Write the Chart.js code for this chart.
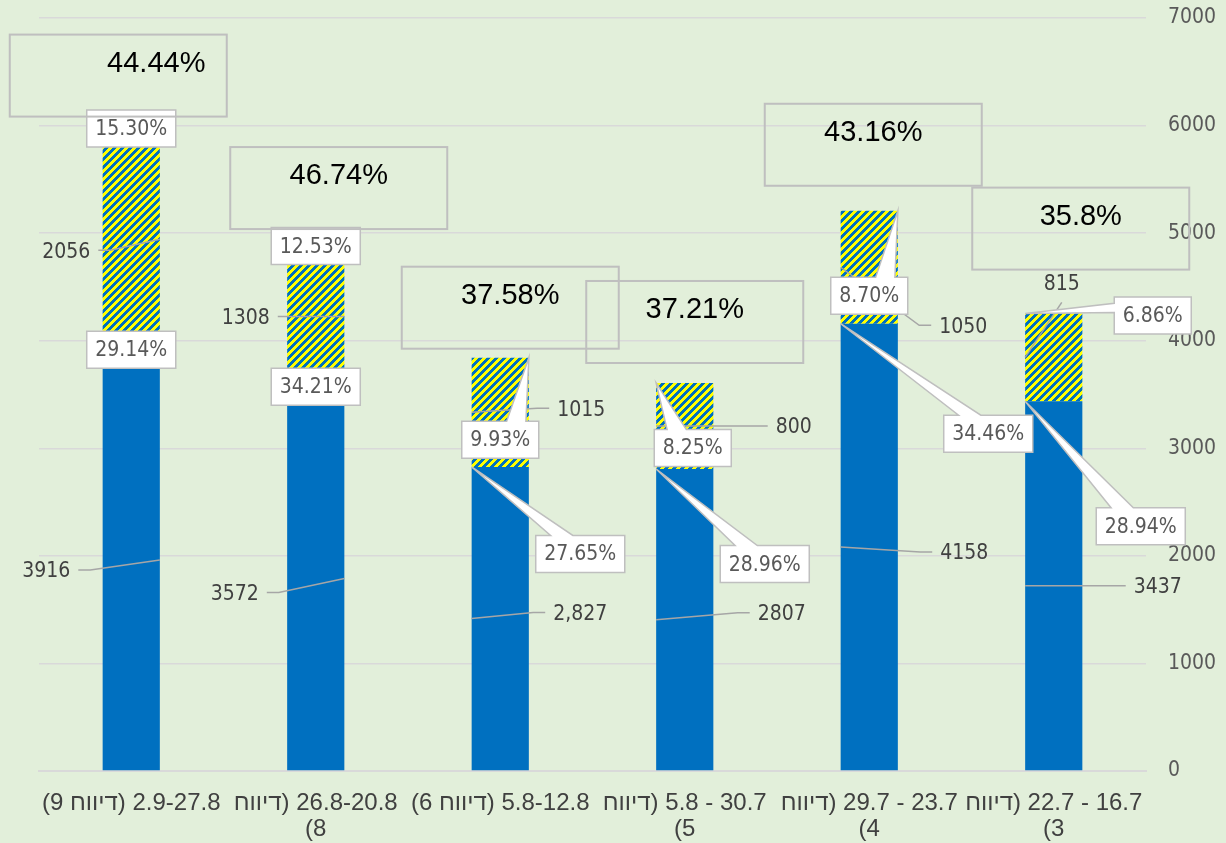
<!DOCTYPE html>
<html>
<head>
<meta charset="utf-8">
<script src="https://cdn.jsdelivr.net/npm/chart.js@4.4.1/dist/chart.umd.min.js"></script>
<style>
html,body{margin:0;padding:0;background:#e2efda;}
#wrap{width:1226px;height:843px;}
</style>
</head>
<body>
<div id="wrap"><canvas id="chart" width="1226" height="843"></canvas></div>
<script>
// report periods (visual order, Hebrew word isolated so the line reads like the original)
const RLI="\u2067", PDI="\u2069";
const heb="דיווח";
const categories=[
"(9 "+RLI+heb+PDI+") 2.9-27.8",
[RLI+heb+PDI+") 26.8-20.8","(8"],
"(6 "+RLI+heb+PDI+") 5.8-12.8",
[RLI+heb+PDI+") 5.8 - 30.7","(5"],
[RLI+heb+PDI+") 29.7 - 23.7","(4"],
[RLI+heb+PDI+") 22.7 - 16.7","(3"]
];

const blueValues=[3916,3572,2827,2807,4158,3437];
const hatchValues=[2056,1308,1015,800,1050,815];

const blueLabels=["3916","3572","2,827","2807","4158","3437"];
const hatchLabels=["2056","1308","1015","800","1050","815"];

const bluePct=["29.14%","34.21%","27.65%","28.96%","34.46%","28.94%"];
const hatchPct=["15.30%","12.53%","9.93%","8.25%","8.70%","6.86%"];
const totalPct=["44.44%","46.74%","37.58%","37.21%","43.16%","35.8%"];

const yMin=0, yMax=7000, yStep=1000;

/* layout of the annotations, offsets from the bar anchors (px) */
const blueLabelPos=[[-85,12,1],[-81,16,1],[80,-4,-1],[97,-5,-1],[95,7,-1],[104,2,-1]];
const hatchLabelPos=[[-65,13,1],[-70,2,1],[81,-2,-1],[109,2,-1],[94,60,-1],[8,-73,-1]];
const hatchPctPos=[[0,0,0],[0,0,0],[0,82,1],[8,65,-1],[0,85,1],[99,2,-1]];
const bluePctPos=[[0,0,0],[0,0,0],[80,87,-1],[80,95,-1],[119,110,-1],[87,125,-1]];
const bigBoxPos=[[-13,12,38],[23,17,0],[10,9,0],[10,20,0],[4,25,0],[27,44,0]];

const numFont="'DejaVu Sans Condensed','DejaVu Sans',sans-serif";

function makeHatch(){
const c=document.createElement("canvas");
c.width=8;c.height=8;
const g=c.getContext("2d");
g.fillStyle="#0070c0";
g.fillRect(0,0,8,8);
g.fillStyle="#ffff00";
for(let y=0;y<8;y++){
for(let x=0;x<8;x++){
if(((x+y)%8)<4) g.fillRect(x,y,1,1);
}
}
return g.createPattern(c,"repeat");
}

function wedgeBox(ctx,l,t,w,h,px,py){
const hc=l+w/2, vc=t+h/2;
const dxPos=px-hc, dyPos=py-vc;
ctx.beginPath();
if(px>=l && px<=l+w && py>=t && py<=t+h){
ctx.rect(l,t,w,h);
}else{
const side=Math.abs(dxPos*h)>Math.abs(dyPos*w);
const x1=l+w*(dxPos>0?7:2)/12, x2=l+w*(dxPos>0?10:5)/12;
const y1=t+h*(dyPos>0?7:2)/12, y2=t+h*(dyPos>0?10:5)/12;
ctx.moveTo(l,t);
if(!side && dyPos<0){ctx.lineTo(x1,t);ctx.lineTo(px,py);ctx.lineTo(x2,t);}
ctx.lineTo(l+w,t);
if(side && dxPos>0){ctx.lineTo(l+w,y1);ctx.lineTo(px,py);ctx.lineTo(l+w,y2);}
ctx.lineTo(l+w,t+h);
if(!side && dyPos>0){ctx.lineTo(x2,t+h);ctx.lineTo(px,py);ctx.lineTo(x1,t+h);}
ctx.lineTo(l,t+h);
if(side && dxPos<0){ctx.lineTo(l,y2);ctx.lineTo(px,py);ctx.lineTo(l,y1);}
ctx.closePath();
}
ctx.fillStyle="#ffffff";
ctx.fill();
ctx.strokeStyle="#bfbfbf";
ctx.lineWidth=1.5;
ctx.stroke();
}

function valueLabel(ctx,text,cx,hw,mid,pos){
const [dx,dy,edge]=pos;
const tx=cx+dx, ty=mid+dy;
ctx.font="21px "+numFont;
const tw=ctx.measureText(text).width;
const ex=cx+edge*hw;
ctx.strokeStyle="#a6a6a6";
ctx.lineWidth=1.5;
ctx.beginPath();
ctx.moveTo(ex,mid);
if(Math.abs(dx)<tw){
ctx.lineTo(tx,ty+18);
}else if(dx>0){
const nx=tx-tw/2-8;
ctx.lineTo(nx-12,ty-2);
ctx.lineTo(nx,ty-2);
}else{
const nx=tx+tw/2+8;
ctx.lineTo(nx+12,ty-2);
ctx.lineTo(nx,ty-2);
}
ctx.stroke();
ctx.fillStyle="#404040";
ctx.textAlign="center";
ctx.textBaseline="middle";
ctx.fillText(text,tx,ty);
}

function pctBox(ctx,text,cx,hw,ay,pos){
const [dx,dy,side]=pos;
ctx.font="21px "+numFont;
const tw=ctx.measureText(text).width;
const w=tw+17, h=37;
const bx=cx+dx, by=ay+dy;
wedgeBox(ctx,bx-w/2,by-h/2,w,h,cx+side*hw,ay);
ctx.fillStyle="#595959";
ctx.textAlign="center";
ctx.textBaseline="middle";
ctx.fillText(text,bx,by+1);
}

const bgPlugin={
id:"bg",
beforeDraw(chart){
const ctx=chart.ctx;
ctx.save();
ctx.fillStyle="#e2efda";
ctx.fillRect(0,0,chart.width,chart.height);
ctx.restore();
}
};

const notePlugin={
id:"notes",
afterDatasetsDraw(chart){
const ctx=chart.ctx;
const low=chart.getDatasetMeta(0).data;
const up=chart.getDatasetMeta(1).data;
ctx.save();
// leader lines + value labels
for(let i=0;i<low.length;i++){
const b=low[i], u=up[i];
const hw=b.width/2;
valueLabel(ctx,blueLabels[i],b.x,hw,(b.y+b.base)/2,blueLabelPos[i]);
valueLabel(ctx,hatchLabels[i],u.x,hw,(u.y+u.base)/2,hatchLabelPos[i]);
}
// percentage callouts
for(let i=0;i<low.length;i++){
const b=low[i], u=up[i];
const hw=b.width/2;
pctBox(ctx,bluePct[i],b.x,hw,b.y,bluePctPos[i]);
pctBox(ctx,hatchPct[i],u.x,hw,u.y,hatchPctPos[i]);
}
// total share boxes
for(let i=0;i<up.length;i++){
const u=up[i];
const [dx,gap,tdx]=bigBoxPos[i];
const w=217,h=82;
const l=u.x+dx-w/2, t=u.y-gap-h;
ctx.strokeStyle="#bfbfbf";
ctx.lineWidth=2;
ctx.strokeRect(l,t,w,h);
ctx.font="29px 'Liberation Sans',Arial,sans-serif";
ctx.fillStyle="#000000";
ctx.textAlign="center";
ctx.textBaseline="middle";
ctx.fillText(totalPct[i],l+w/2+tdx,t+29);
}
ctx.restore();
}
};

new Chart(document.getElementById("chart"),{
type:"bar",
data:{
labels:categories,
datasets:[
{
label:"base",
data:blueValues,
backgroundColor:"#0070c0",
barPercentage:0.31,
categoryPercentage:1
},
{
label:"extra",
data:hatchValues,
backgroundColor:makeHatch(),
barPercentage:0.31,
categoryPercentage:1
}
]
},
options:{
responsive:false,
animation:false,
devicePixelRatio:1,
layout:{padding:{left:39,right:10,top:18,bottom:0}},
plugins:{
legend:{display:false},
tooltip:{enabled:false}
},
scales:{
x:{
stacked:true,
grid:{display:false,drawTicks:false},
border:{display:true,color:"#d9d9d9",width:2},
ticks:{
color:"#404040",
font:{family:"'Liberation Sans',Arial,sans-serif",size:24,lineHeight:1.1},
padding:19,
maxRotation:0,
autoSkip:false
},
afterFit(s){s.height=72;s.paddingLeft=0;s.paddingRight=0;}
},
y:{
stacked:true,
position:"right",
min:yMin,
max:yMax,
grid:{color:"#d9d9d9",lineWidth:1.5,drawTicks:false},
border:{display:false},
ticks:{
stepSize:yStep,
color:"#595959",
font:{family:numFont,size:21},
padding:22,
callback:(v)=>String(v)
},
afterFit(s){s.width=70;s.paddingTop=0;s.paddingBottom=0;}
}
}
},
plugins:[bgPlugin,notePlugin]
});
</script>
</body>
</html>
